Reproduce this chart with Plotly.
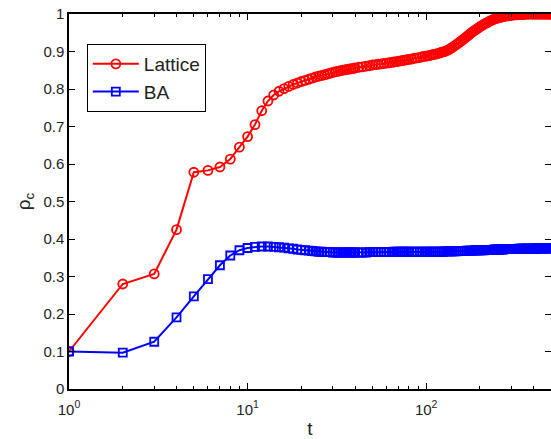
import plotly.graph_objects as go

t = [1, 2, 3, 4, 5, 6, 7, 8, 9, 10, 11, 12, 13, 14, 15, 16, 17, 18, 19, 20,
     21, 22, 23, 24, 25, 26, 27, 28, 29, 30, 31, 32, 33, 34, 35, 36, 37, 38, 39, 40,
     42, 44, 46, 48, 50, 52, 54, 56, 58, 60, 62, 64, 66, 68, 70, 72, 74, 76, 78, 80,
     83, 86, 89, 92, 95, 98, 101, 104, 107, 110, 113, 116, 119, 122, 125, 128, 131, 134, 137, 140,
     144, 148, 152, 156, 160, 164, 168, 172, 176, 180, 184, 188, 192, 196, 200,
     205, 210, 215, 220, 225, 230, 235, 240, 245, 250, 255, 260, 265, 270, 275, 280, 285, 290, 295, 300,
     306, 312, 318, 324, 330, 336, 342, 348, 354, 360, 366, 372, 378, 384, 390, 396, 402, 408, 414, 420,
     426, 432, 438, 444, 450, 456, 462, 468, 474, 480, 486, 492, 498, 500]

lattice = [0.100, 0.280, 0.307, 0.425, 0.578, 0.583, 0.592, 0.613, 0.645, 0.673,
           0.705, 0.742, 0.768, 0.784, 0.794, 0.801, 0.807, 0.812, 0.816, 0.820,
           0.823, 0.826, 0.829, 0.832, 0.834, 0.836, 0.838, 0.840, 0.842, 0.844,
           0.846, 0.847, 0.849, 0.850, 0.851, 0.852, 0.853, 0.854, 0.855, 0.856,
           0.858, 0.859, 0.861, 0.862, 0.864, 0.865, 0.866, 0.867, 0.868, 0.869,
           0.870, 0.871, 0.872, 0.873, 0.874, 0.875, 0.876, 0.877, 0.878, 0.879,
           0.880, 0.882, 0.883, 0.884, 0.886, 0.887, 0.888, 0.889, 0.891, 0.892,
           0.893, 0.895, 0.896, 0.898, 0.899, 0.901, 0.903, 0.905, 0.908, 0.911,
           0.915, 0.919, 0.923, 0.927, 0.931, 0.935, 0.939, 0.943, 0.947, 0.951,
           0.954, 0.957, 0.960, 0.963, 0.966,
           0.969, 0.972, 0.975, 0.977, 0.980, 0.982, 0.984, 0.986, 0.988, 0.989,
           0.990, 0.991, 0.992, 0.993, 0.994, 0.995, 0.995, 0.996, 0.996, 0.997,
           0.997, 0.998, 0.998, 0.998, 0.999, 0.999, 0.999, 0.999, 0.999, 1.000,
           1.000, 1.000, 1.000, 1.000, 1.000, 1.000, 1.000, 1.000, 1.000, 1.000,
           1.000, 1.000, 1.000, 1.000, 1.000, 1.000, 1.000, 1.000, 1.000, 1.000,
           1.000, 1.000, 1.000, 1.000]

ba = [0.100, 0.097, 0.126, 0.191, 0.247, 0.293, 0.330, 0.356, 0.370, 0.376,
      0.379, 0.380, 0.380, 0.379, 0.378, 0.377, 0.375, 0.374, 0.372, 0.371,
      0.370, 0.369, 0.368, 0.367, 0.366, 0.366, 0.365, 0.365, 0.365, 0.364,
      0.364, 0.364, 0.364, 0.364, 0.364, 0.364, 0.364, 0.364, 0.364, 0.364,
      0.364, 0.364, 0.364, 0.365, 0.365, 0.365, 0.365, 0.365, 0.365, 0.365,
      0.365, 0.365, 0.366, 0.366, 0.366, 0.366, 0.366, 0.366, 0.366, 0.366,
      0.366, 0.366, 0.366, 0.366, 0.366, 0.366, 0.366, 0.366, 0.366, 0.366,
      0.366, 0.366, 0.366, 0.366, 0.366, 0.367, 0.367, 0.367, 0.367, 0.367,
      0.367, 0.367, 0.368, 0.368, 0.368, 0.368, 0.369, 0.369, 0.369, 0.369,
      0.369, 0.370, 0.370, 0.370, 0.370,
      0.370, 0.370, 0.371, 0.371, 0.371, 0.371, 0.371, 0.372, 0.372, 0.372,
      0.372, 0.372, 0.372, 0.372, 0.373, 0.373, 0.373, 0.373, 0.373, 0.373,
      0.373, 0.373, 0.373, 0.373, 0.374, 0.374, 0.374, 0.374, 0.374, 0.374,
      0.374, 0.374, 0.374, 0.374, 0.374, 0.374, 0.374, 0.374, 0.375, 0.375,
      0.375, 0.375, 0.375, 0.375, 0.375, 0.375, 0.375, 0.375, 0.375, 0.375,
      0.375, 0.375, 0.375, 0.375]

x_tickvals = [1, 10, 100]
x_ticktext = ["10<sup>0</sup>", "10<sup>1</sup>", "10<sup>2</sup>"]
x_minor_tickvals = [2, 3, 4, 5, 6, 7, 8, 9, 20, 30, 40, 50, 60, 70, 80, 90, 200, 300, 400]
y_tickvals = [0, 0.1, 0.2, 0.3, 0.4, 0.5, 0.6, 0.7, 0.8, 0.9, 1]
y_ticktext = ["0", "0.1", "0.2", "0.3", "0.4", "0.5", "0.6", "0.7", "0.8", "0.9", "1"]

FONT = "Liberation Sans, Arial, sans-serif"
TXT = "#222222"

fig = go.Figure()
fig.add_trace(go.Scatter(
    x=t, y=lattice, name="Lattice", mode="lines+markers",
    line=dict(color="#ff0000", width=2),
    marker=dict(symbol="circle-open", size=9, color="#ff0000", line=dict(width=1.8, color="#ff0000")),
))
fig.add_trace(go.Scatter(
    x=t, y=ba, name="BA", mode="lines+markers",
    line=dict(color="#0000ff", width=2),
    marker=dict(symbol="square-open", size=8, color="#0000ff", line=dict(width=1.8, color="#0000ff")),
))

fig.update_layout(
    width=551, height=439,
    margin=dict(l=69, r=0, t=14, b=50),
    paper_bgcolor="white", plot_bgcolor="white",
    font=dict(family=FONT, size=15, color=TXT),
    showlegend=True,
    legend=dict(
        x=0.037, y=0.92, xanchor="left", yanchor="top",
        bordercolor="black", borderwidth=1, bgcolor="white",
        font=dict(family=FONT, size=19, color=TXT),
        tracegroupgap=0, itemsizing="trace", itemwidth=46,
    ),
    xaxis=dict(
        type="log", range=[0, 2.69897],
        tickvals=x_tickvals, ticktext=x_ticktext,
        ticks="inside", ticklen=6, tickwidth=1, tickcolor="black",
        showline=True, linecolor="black", linewidth=1.5, mirror="ticks",
        showgrid=False, zeroline=False,
        minor=dict(tickvals=x_minor_tickvals, ticks="inside", ticklen=3, tickwidth=1,
                   tickcolor="black", showgrid=False),
        title=dict(text="t", font=dict(family=FONT, size=19, color=TXT), standoff=8),
        tickfont=dict(family=FONT, size=15, color=TXT),
        ticklabelstandoff=6,
        automargin=False,
    ),
    yaxis=dict(
        range=[0, 1],
        tickvals=y_tickvals, ticktext=y_ticktext,
        ticks="inside", ticklen=6, tickwidth=1, tickcolor="black",
        showline=True, linecolor="black", linewidth=1.5, mirror="ticks",
        showgrid=False, zeroline=False,
        title=dict(text="ρ<sub>c</sub>", font=dict(family=FONT, size=19, color=TXT), standoff=8),
        tickfont=dict(family=FONT, size=15, color=TXT),
        automargin=False,
    ),
)

fig.write_html("out.html")
